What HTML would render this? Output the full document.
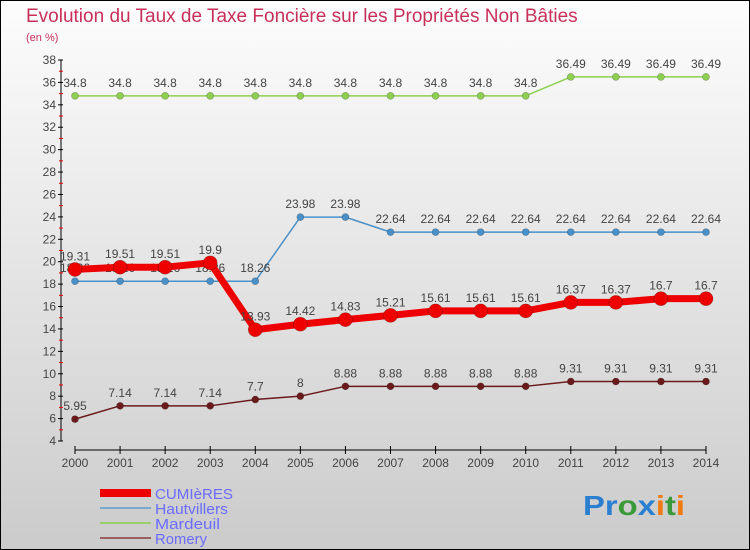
<!DOCTYPE html>
<html><head><meta charset="utf-8"><style>
body{margin:0;width:750px;height:550px;overflow:hidden;font-family:"Liberation Sans",sans-serif}
</style></head><body>
<svg id="c" width="750" height="550" xmlns="http://www.w3.org/2000/svg" style="display:block">
<defs><linearGradient id="bg" x1="0" y1="0" x2="0" y2="1"><stop offset="0" stop-color="#fdfdfd"/><stop offset="1" stop-color="#cbcbcb"/></linearGradient></defs>
<rect x="0.5" y="0.5" width="749" height="549" fill="url(#bg)" stroke="#000"/>
<text x="26" y="22" font-size="19" fill="#c8305a" font-weight="300">Evolution du Taux de Taxe Foncière sur les Propriétés Non Bâties</text>
<text x="26" y="41" font-size="11" fill="#c8305a">(en %)</text>
<g id="plot"></g>
<g>
<rect x="100" y="489" width="51" height="8" fill="#e00"/>
<text x="155" y="499" font-size="15" fill="#6b6bff" textLength="78" lengthAdjust="spacingAndGlyphs">CUMIèRES</text>
<rect x="100" y="507" width="51" height="2" fill="#7aa9cf"/>
<text x="155" y="514" font-size="15" fill="#6b6bff" textLength="73" lengthAdjust="spacingAndGlyphs">Hautvillers</text>
<rect x="100" y="522" width="51" height="2" fill="#9ad06b"/>
<text x="155" y="529" font-size="15" fill="#6b6bff" textLength="65" lengthAdjust="spacingAndGlyphs">Mardeuil</text>
<rect x="100" y="537" width="51" height="2" fill="#9a6060"/>
<text x="155" y="544" font-size="15" fill="#6b6bff" textLength="52" lengthAdjust="spacingAndGlyphs">Romery</text>
</g>
<text x="583" y="515" font-size="28" font-weight="bold" textLength="102" lengthAdjust="spacingAndGlyphs"><tspan fill="#2a7fd0">Pr</tspan><tspan fill="#3a9a3a">o</tspan><tspan fill="#2a7fd0">x</tspan><tspan fill="#f07a10">i</tspan><tspan fill="#3a9a3a">t</tspan><tspan fill="#f07a10">i</tspan></text>
</svg>
<script>
const years=[2000,2001,2002,2003,2004,2005,2006,2007,2008,2009,2010,2011,2012,2013,2014];
const yTicks=[4,6,8,10,12,14,16,18,20,22,24,26,28,30,32,34,36,38];
const cumieres=[19.31,19.51,19.51,19.9,13.93,14.42,14.83,15.21,15.61,15.61,15.61,16.37,16.37,16.7,16.7];
const hautvillers=[18.26,18.26,18.26,18.26,18.26,23.98,23.98,22.64,22.64,22.64,22.64,22.64,22.64,22.64,22.64];
const mardeuil=[34.8,34.8,34.8,34.8,34.8,34.8,34.8,34.8,34.8,34.8,34.8,36.49,36.49,36.49,36.49];
const romery=[5.95,7.14,7.14,7.14,7.7,8,8.88,8.88,8.88,8.88,8.88,9.31,9.31,9.31,9.31];
const NS="http://www.w3.org/2000/svg";
const g=document.getElementById('plot');
const x=i=>75+i*(706-75)/(years.length-1);
const y=v=>441-(v-4)*(441-60)/34;
function mk(t,a,p){const e=document.createElementNS(NS,t);for(const k in a)e.setAttribute(k,a[k]);(p||g).appendChild(e);return e;}
let ax=mk('line',{x1:61,y1:60,x2:61,y2:441,stroke:'#000'});


yTicks.forEach(v=>{
 const t=mk('line',{x1:58,x2:63,y1:y(v),y2:y(v),stroke:'#000'});
 
 
 const l=mk('text',{x:56,y:y(v)+4,'font-size':12,'text-anchor':'end',fill:'#444'});
 l.textContent=v;
 
 
 if(v<38){const m=mk('line',{x1:59,x2:63,y1:y(v+1),y2:y(v+1),stroke:'#e00'});
 
 }
});
let xa=mk('line',{x1:75,y1:450,x2:706,y2:450,stroke:'#000'});


years.forEach((yr,i)=>{
 const t=mk('line',{x1:x(i),x2:x(i),y1:446,y2:454,stroke:'#000'});
 
 
 const l=mk('text',{x:x(i),y:467,'font-size':12,'text-anchor':'middle',fill:'#444'});
 l.textContent=yr;
 
 
});
function series(name,data,color,w,r){
 const p=mk('polyline',{points:data.map((v,i)=>x(i)+','+y(v)).join(' '),fill:'none',stroke:color,'stroke-width':w,'stroke-linejoin':'round'});
 
 
 data.forEach((v,i)=>{
  const c=mk('circle',{cx:x(i),cy:y(v),r:r,fill:color,stroke:'rgba(0,0,0,0.3)','stroke-width':0.6});
  
  
  const l=mk('text',{x:x(i),y:y(v)-9,'font-size':12,'text-anchor':'middle',fill:'#444'});
  l.textContent=String(v);
  
  
 });
}
series('mardeuil',mardeuil,'#8dd050',1.5,3.5);
series('hautvillers',hautvillers,'#4a90c8',1.5,3.5);
series('romery',romery,'#6a1a1a',1.5,3.5);
series('cumieres',cumieres,'#ee0000',7,7);
</script>
</body></html>
